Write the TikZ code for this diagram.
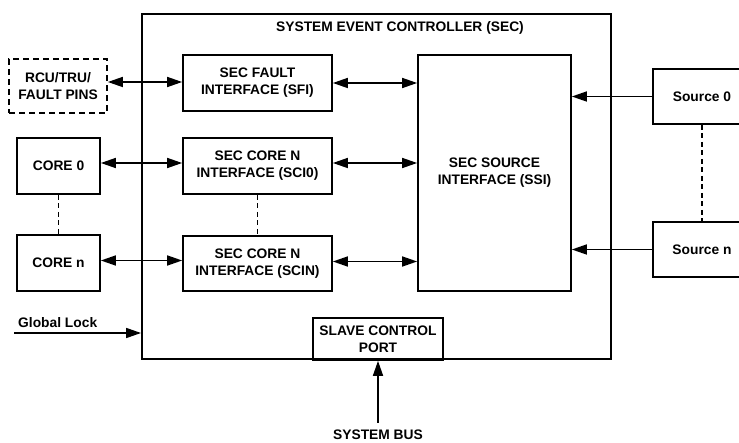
\documentclass[tikz,border=0pt]{standalone}
\usepackage{fontspec}
\setmainfont{Liberation Sans}
\usetikzlibrary{arrows.meta}
\begin{document}
\begin{tikzpicture}[x=1pt,y=-1pt,
  every node/.style={font=\fontsize{13.8}{17}\selectfont\bfseries, align=center, inner sep=0pt},
  blk/.style={draw, line width=1.7pt, rectangle},
  dblarrow/.style={line width=1.6pt, {Triangle[length=15pt,width=10pt]}-{Triangle[length=15pt,width=10pt]}},
  sglarrow/.style={line width=1.6pt, -{Triangle[length=15pt,width=10pt]}},
  dashline/.style={line width=1.2pt, dash pattern=on 5pt off 3.5pt}]
\clip (0,0) rectangle (739,443);
\fill[white] (0,0) rectangle (739,443);
% outer SEC box
\node[blk, line width=1.9pt, minimum width=469pt, minimum height=345pt] (sec) at (376.5,186.5) {};
\node (title) at (400,28) {SYSTEM EVENT CONTROLLER (SEC)};
% blocks
\node[draw, line width=1.7pt, dash pattern=on 6pt off 4pt, minimum width=98pt, minimum height=54pt] (rcu) at (58,86) {RCU/TRU/\\FAULT PINS};
\node[blk, minimum width=149pt, minimum height=56pt] (sfi) at (257.5,83) {SEC FAULT\\INTERFACE (SFI)};
\node[blk, minimum width=149pt, minimum height=56pt] (sci0) at (257.5,166) {SEC CORE N\\INTERFACE (SCI0)};
\node[blk, minimum width=149pt, minimum height=55pt] (scin) at (257.5,263.5) {SEC CORE N\\INTERFACE (SCIN)};
\node[blk, minimum width=153pt, minimum height=236pt] (ssi) at (494.5,173) {SEC SOURCE\\INTERFACE (SSI)};
\node[blk, minimum width=83pt, minimum height=56pt] (core0) at (58.5,166) {CORE 0};
\node[blk, minimum width=83pt, minimum height=56pt] (coren) at (58.5,263) {CORE n};
\node[blk, minimum width=98pt, minimum height=55pt] (src0) at (702,96.5) {Source 0};
\node[blk, minimum width=98pt, minimum height=55pt] (srcn) at (702,249.5) {Source n};
\node[blk, minimum width=130pt, minimum height=42pt] (scp) at (378,339) {SLAVE CONTROL\\PORT};
% connectors
\draw[dblarrow] ([yshift=1pt]sfi.west -| rcu.east) -- ([yshift=1pt]sfi.west);
\draw[dblarrow] ([yshift=3pt]sci0.west -| core0.east) -- ([yshift=3pt]sci0.west);
\draw[dblarrow] ([yshift=3pt]scin.west -| coren.east) -- ([yshift=3pt]scin.west);
\draw[dblarrow] (sfi.east) -- (sfi.east -| ssi.west);
\draw[dblarrow] ([yshift=3pt]sci0.east) -- ([yshift=3pt]sci0.east -| ssi.west);
\draw[dblarrow] ([yshift=2pt]scin.east) -- ([yshift=2pt]scin.east -| ssi.west);
\draw[sglarrow] (src0.west) -- (src0.west -| ssi.east);
\draw[sglarrow] (srcn.west) -- (srcn.west -| ssi.east);
\draw[dashline] (core0.south) -- (coren.north);
\draw[dashline] (sci0.south) -- (scin.north);
\draw[dashline] (src0.south) -- (srcn.north);
% global lock
\coordinate (gl) at (14,333);
\draw[sglarrow] (gl) -- (gl -| sec.west);
\node[anchor=west] (gllabel) at (18,323) {Global Lock};
% system bus
\coordinate (sb) at (378,423);
\draw[sglarrow] (sb) -- (scp.south);
\node (sblabel) at (378,434.5) {SYSTEM BUS};
\end{tikzpicture}
\end{document}
